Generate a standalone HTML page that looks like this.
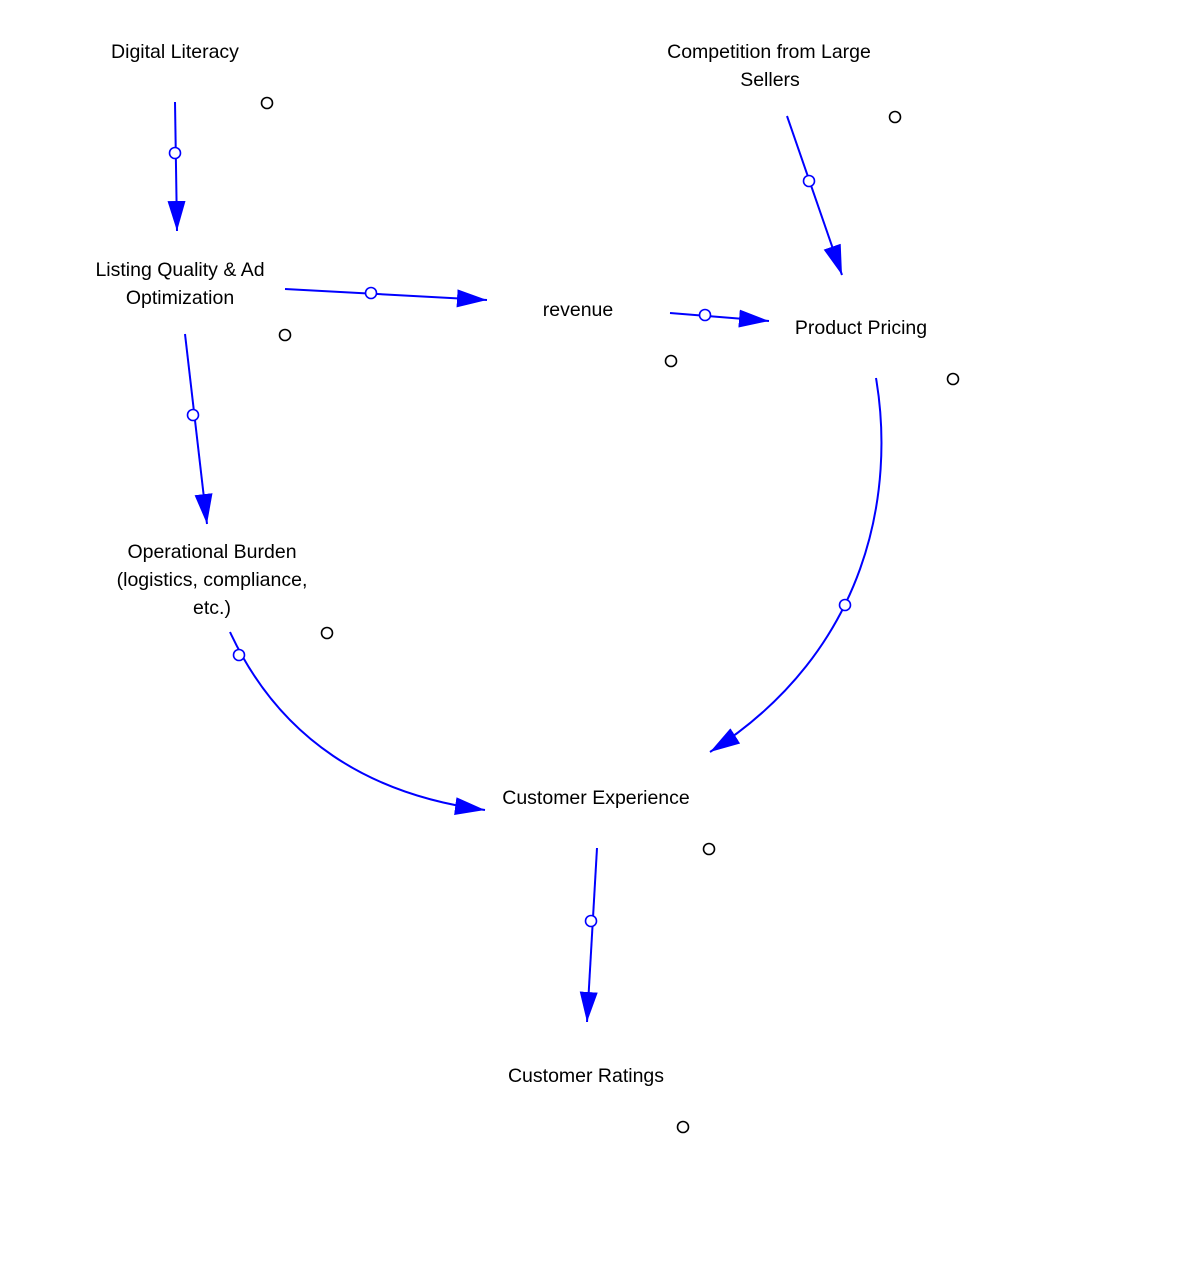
<!DOCTYPE html>
<html><head><meta charset="utf-8"><style>
html,body{margin:0;padding:0;background:#fff;}
svg text{font-family:"Liberation Sans",sans-serif;font-size:19.5px;fill:#000;text-anchor:middle;}
</style></head><body>
<svg width="1178" height="1266" viewBox="0 0 1178 1266" xmlns="http://www.w3.org/2000/svg">
<defs>
<marker id="a" markerWidth="32" markerHeight="20" refX="0" refY="0" viewBox="-30 -10 32 20" orient="auto" markerUnits="userSpaceOnUse">
<path d="M-30,-9 L0,0 L-30,9 Z" fill="#00f"/>
</marker>
</defs>
<g fill="none" stroke="#00f" stroke-width="2">
<line x1="175" y1="102" x2="177" y2="231" marker-end="url(#a)"/>
<line x1="787" y1="116" x2="842" y2="275" marker-end="url(#a)"/>
<line x1="285" y1="289" x2="487" y2="300" marker-end="url(#a)"/>
<line x1="670" y1="313" x2="769" y2="321" marker-end="url(#a)"/>
<line x1="185" y1="334" x2="207" y2="524" marker-end="url(#a)"/>
<path d="M876,378 C895,490 870,650 710,752" marker-end="url(#a)"/>
<path d="M230,632 C280,740 370,795 485,810" marker-end="url(#a)"/>
<line x1="597" y1="848" x2="587" y2="1022" marker-end="url(#a)"/>
</g>
<g fill="#fff" stroke="#00f" stroke-width="1.6">
<circle cx="175" cy="153" r="5.5"/>
<circle cx="809" cy="181" r="5.5"/>
<circle cx="371" cy="293" r="5.5"/>
<circle cx="705" cy="315" r="5.5"/>
<circle cx="193" cy="415" r="5.5"/>
<circle cx="845" cy="605" r="5.5"/>
<circle cx="239" cy="655" r="5.5"/>
<circle cx="591" cy="921" r="5.5"/>
</g>
<g fill="#fff" stroke="#000" stroke-width="1.6">
<circle cx="267" cy="103" r="5.5"/>
<circle cx="895" cy="117" r="5.5"/>
<circle cx="285" cy="335" r="5.5"/>
<circle cx="671" cy="361" r="5.5"/>
<circle cx="953" cy="379" r="5.5"/>
<circle cx="327" cy="633" r="5.5"/>
<circle cx="709" cy="849" r="5.5"/>
<circle cx="683" cy="1127" r="5.5"/>
</g>
<text x="175" y="58">Digital Literacy</text>
<text x="769" y="58">Competition from Large</text>
<text x="770" y="86">Sellers</text>
<text x="180" y="276">Listing Quality &amp; Ad</text>
<text x="180" y="304">Optimization</text>
<text x="578" y="316">revenue</text>
<text x="861" y="334">Product Pricing</text>
<text x="212" y="558">Operational Burden</text>
<text x="212" y="586">(logistics, compliance,</text>
<text x="212" y="614">etc.)</text>
<text x="596" y="804">Customer Experience</text>
<text x="586" y="1082">Customer Ratings</text>
</svg>
</body></html>
